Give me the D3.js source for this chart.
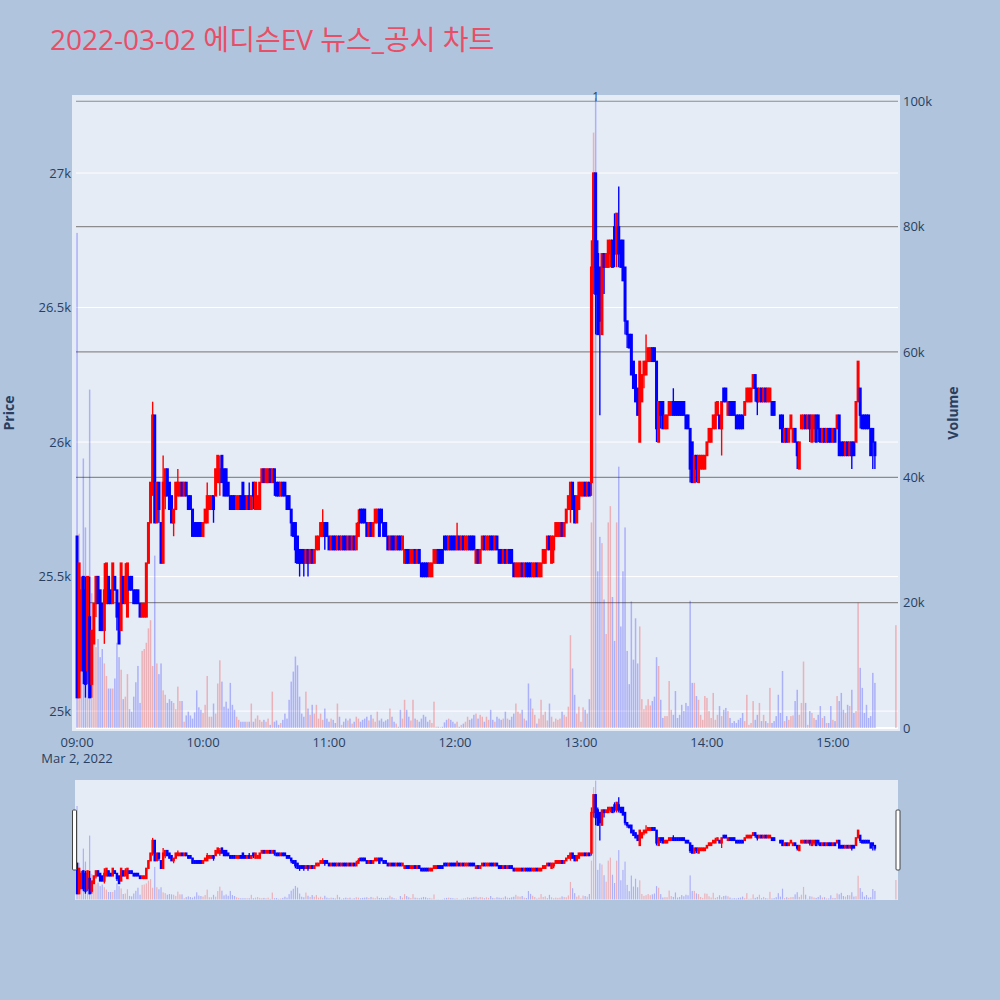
<!DOCTYPE html>
<html><head><meta charset="utf-8">
<script src="https://cdn.jsdelivr.net/npm/d3@7"></script>
<style>body{margin:0;background:#B0C4DE;}svg{display:block;}</style>
</head><body>
<svg id="chart" width="1000" height="1000"></svg>
<script>
// ---------- DATA ----------
const chartTitle = "2022-03-02 에디슨EV 뉴스_공시 차트";
const sessionDate = [2022, 2, 2];
// minute offsets from 09:00 (09:00..15:20 continuous, then 15:30 closing auction)
const minuteOffsets = d3.range(0, 381).concat([390]);

const open = [
25650,25050,25150,25500,25450,25150,25350,25100,25250,25400,
25500,25450,25400,25300,25400,25500,25450,25400,25500,25450,
25400,25300,25500,25400,25350,25500,25500,25450,25450,25450,
25400,25350,25350,25350,25550,25700,25850,26100,25700,25850,
25700,25550,25800,25900,25850,25800,25700,25750,25800,25800,
25850,25800,25850,25800,25800,25750,25700,25700,25700,25700,
25650,25700,25700,25750,25750,25800,25800,25850,25850,25950,
25900,25900,25850,25800,25800,25800,25750,25750,25800,25850,
25800,25750,25800,25750,25850,25750,25750,25750,25850,25900,
25850,25850,25900,25850,25900,25850,25850,25800,25850,25850,
25800,25800,25750,25700,25700,25650,25600,25600,25600,25550,
25600,25550,25600,25550,25600,25600,25650,25650,25700,25700,
25650,25600,25650,25650,25600,25650,25600,25650,25650,25600,
25650,25600,25650,25600,25650,25750,25750,25750,25700,25650,
25700,25650,25700,25700,25750,25750,25700,25700,25650,25600,
25650,25650,25600,25650,25650,25600,25550,25600,25600,25550,
25550,25600,25550,25600,25550,25550,25550,25550,25500,25500,
25550,25550,25600,25600,25600,25650,25650,25600,25650,25650,
25650,25600,25650,25600,25650,25600,25600,25650,25650,25650,
25550,25600,25550,25600,25650,25600,25600,25650,25650,25600,
25650,25600,25600,25550,25600,25550,25600,25600,25550,25500,
25500,25500,25550,25500,25550,25550,25550,25500,25500,25550,
25500,25500,25550,25550,25600,25650,25550,25600,25650,25650,
25650,25700,25650,25700,25750,25750,25850,25800,25700,25750,
25800,25800,25850,25800,25850,25850,26650,27000,26700,26650,
26400,26700,26650,26650,26700,26750,26800,26700,26800,26750,
26750,26650,26450,26400,26400,26300,26250,26200,26000,26150,
26250,26250,26300,26300,26350,26350,26300,26000,26150,26150,
26050,26050,26100,26100,26150,26150,26150,26150,26150,26150,
26100,26100,26050,26000,25850,25950,25850,25900,25900,25900,
25950,26000,26000,26050,26050,26100,26100,26050,26200,26200,
26100,26150,26150,26150,26100,26100,26100,26100,26100,26150,
26150,26150,26200,26250,26200,26150,26200,26150,26200,26150,
26150,26150,26150,26100,26100,26100,26100,26000,26050,26000,
26050,26000,26050,26000,25900,26050,26050,26100,26050,26100,
26000,26050,26100,26100,26050,26000,26050,26000,26050,26050,
26000,26050,26050,26100,26000,26000,25950,26000,25950,26000,
26000,26000,26150,26200,26100,26100,26100,26100,26050,26050,26000,
26000];

const high = [
25650,25550,25500,25500,25500,25500,25500,25300,25400,25500,
25500,25450,25400,25550,25550,25500,25450,25550,25500,25450,
25400,25550,25500,25550,25550,25500,25500,25450,25450,25450,
25400,25400,25400,25550,25700,25850,26150,26100,25850,25850,
25700,25950,25900,25900,25850,25800,25750,25850,25900,25850,
25850,25850,25850,25800,25800,25750,25700,25700,25700,25700,
25700,25750,25850,25800,25800,25800,25900,25950,25950,25950,
25900,25900,25850,25800,25800,25800,25800,25800,25800,25850,
25800,25800,25850,25800,25850,25850,25800,25850,25900,25900,
25900,25900,25900,25900,25900,25850,25850,25850,25850,25850,
25800,25800,25750,25700,25700,25650,25600,25600,25600,25600,
25600,25600,25600,25600,25650,25650,25700,25750,25700,25700,
25650,25650,25650,25650,25650,25650,25650,25650,25650,25650,
25650,25650,25650,25700,25750,25750,25750,25750,25700,25700,
25700,25700,25750,25750,25750,25750,25700,25700,25650,25650,
25650,25650,25650,25650,25650,25650,25600,25600,25600,25600,
25600,25600,25600,25600,25550,25550,25550,25550,25550,25550,
25600,25600,25600,25600,25600,25650,25650,25650,25650,25650,
25650,25700,25650,25650,25650,25650,25650,25650,25650,25650,
25600,25600,25600,25650,25650,25650,25650,25650,25650,25650,
25650,25600,25600,25600,25600,25600,25600,25600,25550,25550,
25550,25550,25550,25550,25550,25550,25550,25550,25550,25550,
25550,25550,25600,25600,25650,25650,25650,25650,25700,25700,
25700,25700,25700,25750,25800,25850,25850,25800,25800,25850,
25850,25850,25850,25850,25850,26750,27000,27000,26750,26650,
26700,26700,26700,26750,26750,26750,26850,26850,26950,26750,
26750,26650,26450,26400,26400,26300,26250,26200,26300,26250,
26300,26400,26350,26350,26350,26350,26300,26150,26150,26150,
26100,26100,26150,26150,26200,26150,26150,26150,26150,26150,
26100,26100,26050,26000,25950,25950,25950,25950,25950,25950,
26000,26050,26050,26100,26150,26150,26100,26150,26200,26200,
26150,26150,26150,26150,26100,26100,26100,26100,26150,26200,
26200,26200,26250,26250,26200,26200,26200,26200,26200,26200,
26200,26150,26150,26100,26100,26100,26100,26050,26050,26050,
26100,26050,26050,26000,26000,26100,26100,26100,26100,26100,
26100,26100,26100,26100,26050,26050,26050,26050,26050,26050,
26050,26050,26100,26100,26000,26000,26000,26000,26000,26000,
26000,26150,26300,26200,26100,26100,26100,26100,26050,26050,26000,
26000];

const low = [
25050,25050,25150,25100,25050,25100,25050,25050,25250,25350,
25400,25300,25300,25250,25400,25400,25400,25400,25450,25300,
25250,25300,25400,25400,25350,25450,25450,25400,25400,25400,
25350,25350,25350,25350,25550,25700,25800,25700,25700,25700,
25550,25550,25750,25800,25750,25700,25650,25750,25800,25800,
25800,25800,25800,25750,25750,25650,25650,25650,25650,25650,
25650,25700,25700,25750,25750,25700,25800,25850,25800,25850,
25800,25800,25800,25750,25750,25750,25750,25750,25750,25750,
25750,25750,25750,25750,25750,25750,25750,25750,25850,25850,
25850,25850,25850,25850,25800,25800,25800,25800,25800,25800,
25750,25750,25650,25650,25550,25550,25500,25550,25500,25550,
25500,25550,25550,25550,25600,25600,25650,25650,25600,25650,
25600,25600,25600,25600,25600,25600,25600,25600,25600,25600,
25600,25600,25600,25600,25650,25700,25700,25700,25650,25650,
25650,25650,25700,25700,25650,25700,25650,25650,25600,25600,
25600,25600,25600,25600,25600,25600,25550,25550,25550,25550,
25550,25550,25550,25550,25500,25500,25500,25500,25500,25500,
25550,25550,25550,25550,25550,25600,25600,25600,25600,25600,
25600,25600,25600,25600,25600,25600,25600,25600,25600,25600,
25550,25550,25550,25600,25600,25600,25600,25600,25600,25600,
25600,25550,25550,25550,25550,25550,25550,25550,25500,25500,
25500,25500,25500,25500,25500,25500,25500,25500,25500,25500,
25500,25500,25550,25550,25600,25600,25550,25550,25650,25650,
25650,25650,25650,25700,25750,25700,25750,25700,25700,25750,
25800,25800,25800,25800,25800,25800,26550,26400,26400,26100,
26400,26550,26650,26650,26650,26650,26650,26650,26650,26650,
26600,26400,26350,26350,26250,26200,26150,26100,26000,26150,
26200,26250,26300,26300,26300,26300,26000,26000,26050,26050,
26050,26050,26100,26100,26100,26100,26100,26100,26100,26100,
26050,26050,25850,25850,25850,25850,25850,25900,25900,25900,
25950,26000,26000,26050,26050,26100,26050,25950,26150,26150,
26100,26100,26100,26100,26050,26050,26050,26050,26100,26150,
26150,26150,26200,26150,26100,26150,26150,26150,26150,26150,
26150,26100,26100,26100,26100,26050,26000,26000,26000,26000,
26050,26000,26000,25900,25900,26050,26050,26050,26050,26000,
26000,26000,26000,26000,26000,26000,26000,26000,26000,26000,
26000,26000,26050,25950,25950,25950,25950,25950,25950,25900,
25950,26000,26150,26050,26050,26050,26050,26050,25950,25900,25900,
26000];

const close = [
25050,25550,25450,25150,25100,25500,25050,25300,25400,25500,
25400,25300,25300,25450,25550,25400,25400,25550,25450,25350,
25250,25550,25400,25500,25550,25450,25450,25400,25400,25400,
25350,25400,25400,25550,25700,25850,26100,25700,25850,25750,
25550,25850,25900,25800,25750,25700,25750,25850,25850,25850,
25800,25850,25800,25750,25750,25650,25650,25650,25650,25650,
25700,25750,25800,25800,25800,25750,25900,25950,25900,25850,
25800,25800,25800,25750,25750,25750,25800,25800,25750,25750,
25750,25800,25750,25800,25800,25850,25800,25850,25900,25850,
25900,25900,25850,25900,25850,25800,25800,25850,25800,25800,
25750,25750,25700,25650,25600,25550,25550,25550,25550,25600,
25550,25600,25550,25600,25650,25650,25700,25700,25650,25650,
25600,25650,25600,25600,25650,25600,25650,25600,25600,25650,
25600,25650,25600,25650,25700,25700,25700,25700,25650,25700,
25650,25700,25750,25750,25650,25700,25650,25650,25600,25650,
25600,25600,25650,25600,25600,25650,25600,25550,25550,25600,
25600,25550,25600,25550,25500,25500,25500,25500,25550,25550,
25600,25600,25550,25550,25550,25600,25600,25650,25600,25600,
25600,25650,25600,25650,25600,25650,25650,25600,25600,25600,
25600,25550,25600,25650,25600,25650,25650,25600,25600,25650,
25600,25550,25550,25600,25550,25600,25550,25550,25500,25550,
25550,25550,25500,25550,25500,25500,25500,25550,25550,25500,
25550,25550,25600,25600,25650,25600,25650,25650,25700,25700,
25700,25650,25700,25750,25800,25850,25750,25700,25800,25850,
25850,25850,25800,25850,25800,26650,27000,26550,26400,26450,
26700,26650,26700,26750,26750,26650,26700,26850,26700,26650,
26600,26450,26400,26350,26250,26200,26150,26100,26300,26250,
26300,26300,26350,26350,26300,26300,26050,26150,26100,26050,
26100,26100,26150,26150,26100,26100,26100,26100,26100,26100,
26050,26050,25900,25850,25950,25900,25950,25950,25950,25950,
26000,26050,26050,26100,26100,26150,26050,26150,26150,26150,
26150,26100,26100,26100,26050,26050,26050,26050,26150,26200,
26200,26200,26250,26200,26150,26200,26150,26200,26150,26200,
26200,26100,26100,26100,26100,26050,26000,26050,26000,26050,
26100,26050,26000,25950,26000,26100,26100,26050,26100,26050,
26100,26100,26000,26050,26000,26050,26000,26050,26000,26000,
26050,26000,26100,25950,25950,25950,26000,25950,26000,25950,
25950,26150,26300,26100,26050,26050,26050,26050,25950,26000,25950,
26000];

const volume = [
79000,31000,18000,43000,32000,20000,54000,21500,16600,12900,
14200,11300,12600,10300,8300,6300,6300,6300,7900,13600,
11300,9300,4600,5000,8600,3000,2600,5000,7300,9900,
4000,12300,12600,13600,15900,17200,9900,27500,10300,8600,
10300,6000,5300,4000,4600,4300,4000,3000,6600,4300,
4300,1000,2000,2600,2000,1500,2500,6000,3300,2900,
2400,3700,8300,1800,1800,3900,2300,7100,10800,7400,
3400,4200,3100,7200,3700,2900,1800,1300,1000,1000,
1000,1000,1000,3900,1000,1500,2000,1300,1000,1300,
1000,1500,500,5800,1000,1200,500,800,1300,2300,
1500,4500,7400,9000,11400,10000,5000,2300,1800,5800,
3100,2100,3700,2300,3700,1500,2300,1300,3100,1500,
1000,1500,1300,800,3900,1800,500,1000,1500,1200,
1500,700,1000,1800,1500,1000,1300,1500,1800,1200,
2100,1500,1000,2600,1200,1500,1000,1200,1400,3100,
1800,1000,700,200,2900,1500,4500,2900,1800,1200,
4500,1500,1300,1000,1500,2100,1800,1000,1300,800,
4200,200,200,100,200,900,1300,1500,1300,1000,
700,1000,200,500,700,1000,1800,1300,1500,2100,
2300,1500,2100,1800,1000,1800,1300,2900,1300,1000,
1800,1500,1300,1500,2600,1500,1300,1800,2300,3900,
2600,2300,2900,1500,1200,7100,4700,3100,2100,700,
1500,4500,2100,2600,1200,3900,1800,1000,1500,1300,
1500,2600,2100,1800,3400,14800,9500,5300,2300,3400,
1000,3300,2900,2300,4600,32800,95000,100500,25000,30500,
29500,20500,15000,32800,35400,20900,13900,32800,41700,16200,
25000,32000,12300,7000,20200,10900,17500,10300,16200,4600,
3000,3600,4600,3600,4300,5000,11300,9900,4500,1600,
1900,1900,7500,2900,2100,5900,1600,2100,3700,2700,
4000,3500,20300,7200,7200,5100,4500,2100,1300,5100,
4800,2700,1600,5600,1300,2100,3500,1900,2900,3200,
2700,1600,800,1100,800,1300,1600,2400,1100,5300,
500,800,4300,1300,2100,4000,1100,2100,1100,800,
6400,800,1100,1900,5300,2400,9100,1100,1900,1300,
1900,2000,4300,6100,2100,4000,10600,4000,500,2700,
2400,1600,1300,2100,3500,1600,1900,800,800,3500,
1300,1100,5100,4300,5600,2900,2400,3700,3500,6100,
2400,2700,20000,9600,6400,2400,3700,1600,1900,8800,7200,
16400];

const priceTicks = [25000, 25500, 26000, 26500, 27000];
const volumeTicks = [0, 20000, 40000, 60000, 80000, 100000];
const timeTickHours = [9, 10, 11, 12, 13, 14, 15];
const dateLabel = "Mar 2, 2022";
const newsMarkers = [{minute: 247, label: "1"}];

// ---------- BUILD ----------
const base = new Date(sessionDate[0], sessionDate[1], sessionDate[2], 9, 0);
const times = minuteOffsets.map(m => new Date(base.getTime() + m * 60000));
const rows = times.map((t, i) => {
  const o = open[i], c = close[i];
  const prevC = i > 0 ? close[i - 1] : o;
  const up = c > o || (c === o && c > prevC);
  return {t, o, h: high[i], l: low[i], c, v: volume[i], up};
});

const UP = "#ff0000", DOWN = "#0000ff";
const FONT = "'Open Sans', 'Noto Sans', Arial, sans-serif";
const TXT = "#2a3f5f";

const svg = d3.select("#chart");
svg.append("rect").attr("width", 1000).attr("height", 1000).attr("fill", "#B0C4DE");

svg.append("text").attr("x", 50).attr("y", 50)
  .attr("font-family", "'Open Sans', 'Noto Sans CJK KR', sans-serif")
  .attr("font-size", 28).attr("fill", "#E94E67").text(chartTitle);

const plot = {left: 76, right: 898, top: 95, bottom: 731};
const x = d3.scaleTime()
  .domain([new Date(base.getTime() - 30000), new Date(base.getTime() + 391 * 60000)])
  .range([plot.left, plot.right]);
const yP = d3.scaleLinear().domain([24926, 27290]).range([plot.bottom, plot.top]);
const yV = d3.scaleLinear().domain([-480, 101000]).range([plot.bottom, plot.top]);

// plot background
svg.append("rect").attr("x", 72).attr("y", plot.top).attr("width", 828)
  .attr("height", plot.bottom - plot.top).attr("fill", "#E5ECF6");

const defs = svg.append("defs");
defs.append("clipPath").attr("id", "clipMain").append("rect")
  .attr("x", 72).attr("y", plot.top).attr("width", 828).attr("height", plot.bottom - plot.top);

// price grid (white)
svg.append("g").selectAll("line").data(priceTicks).join("line")
  .attr("x1", plot.left).attr("x2", plot.right)
  .attr("y1", d => yP(d)).attr("y2", d => yP(d))
  .attr("stroke", "#ffffff").attr("stroke-width", 1);
// volume grid (gray) + zero line (white)
svg.append("g").selectAll("line").data(volumeTicks).join("line")
  .attr("x1", plot.left).attr("x2", plot.right)
  .attr("y1", d => yV(d)).attr("y2", d => yV(d))
  .attr("stroke", d => d === 0 ? "#ffffff" : "#8c8c8c")
  .attr("stroke-width", d => d === 0 ? 2 : 1.2);

const gMain = svg.append("g").attr("clip-path", "url(#clipMain)");

function drawVolume(g, ys, w) {
  g.selectAll("rect.v").data(rows).join("rect").attr("class", "v")
    .attr("x", d => x(d.t) - w / 2).attr("width", w)
    .attr("y", d => ys(d.v)).attr("height", d => Math.max(0, ys(0) - ys(d.v)))
    .attr("fill", d => d.up ? UP : DOWN).attr("fill-opacity", 0.25);
}
function drawCandles(g, ys, bw, lw) {
  const c = g.selectAll("g.c").data(rows).join("g").attr("class", "c");
  c.append("line")
    .attr("x1", d => x(d.t)).attr("x2", d => x(d.t))
    .attr("y1", d => ys(d.h)).attr("y2", d => ys(d.l))
    .attr("stroke", d => d.up ? UP : DOWN).attr("stroke-width", lw);
  c.append("rect")
    .attr("x", d => x(d.t) - bw / 2).attr("width", bw)
    .attr("y", d => ys(Math.max(d.o, d.c)))
    .attr("height", d => Math.abs(ys(d.o) - ys(d.c)))
    .attr("fill", d => d.up ? UP : DOWN)
    .attr("stroke", d => d.up ? UP : DOWN).attr("stroke-width", lw);
}
drawVolume(gMain.append("g"), yV, 1.5);
drawCandles(gMain.append("g"), yP, 1.6, 1.4);

// news marker annotation
svg.append("g").selectAll("text").data(newsMarkers).join("text")
  .attr("x", d => x(new Date(base.getTime() + d.minute * 60000)))
  .attr("y", 101).attr("text-anchor", "middle")
  .attr("font-family", FONT).attr("font-size", 12).attr("fill", TXT)
  .text(d => d.label);

// axes labels
const fmtK = d3.format("~s");
svg.append("g").selectAll("text").data(priceTicks).join("text")
  .attr("x", 71).attr("y", d => yP(d)).attr("dy", "0.35em")
  .attr("text-anchor", "end").attr("font-family", FONT).attr("font-size", 13)
  .attr("fill", TXT).text(d => fmtK(d));
svg.append("g").selectAll("text").data(volumeTicks).join("text")
  .attr("x", 903).attr("y", d => yV(d)).attr("dy", "0.35em")
  .attr("text-anchor", "start").attr("font-family", FONT).attr("font-size", 13)
  .attr("fill", TXT).text(d => fmtK(d));

const hourTimes = timeTickHours.map(h => new Date(sessionDate[0], sessionDate[1], sessionDate[2], h, 0));
const fmtT = d3.timeFormat("%H:%M");
svg.append("g").selectAll("text").data(hourTimes).join("text")
  .attr("x", d => x(d)).attr("y", 747).attr("text-anchor", "middle")
  .attr("font-family", FONT).attr("font-size", 13).attr("fill", TXT)
  .text(d => fmtT(d));
svg.append("text").attr("x", x(hourTimes[0])).attr("y", 763).attr("text-anchor", "middle")
  .attr("font-family", FONT).attr("font-size", 13).attr("fill", TXT).text(dateLabel);

svg.append("text").attr("transform", "translate(14,413) rotate(-90)")
  .attr("text-anchor", "middle").attr("font-family", FONT).attr("font-size", 14)
  .attr("font-weight", "bold").attr("fill", TXT).text("Price");
svg.append("text").attr("transform", "translate(958,413) rotate(-90)")
  .attr("text-anchor", "middle").attr("font-family", FONT).attr("font-size", 14)
  .attr("font-weight", "bold").attr("fill", TXT).text("Volume");

// ---------- RANGE SLIDER ----------
const rs = {top: 780, bottom: 900};
svg.append("rect").attr("x", 75).attr("y", rs.top).attr("width", 823)
  .attr("height", rs.bottom - rs.top).attr("fill", "#E5ECF6");
defs.append("clipPath").attr("id", "clipRS").append("rect")
  .attr("x", 75).attr("y", rs.top).attr("width", 823).attr("height", rs.bottom - rs.top);
const yPs = d3.scaleLinear().domain([24926, 27290]).range([rs.bottom, rs.top]);
const yVs = d3.scaleLinear().domain([-480, 101000]).range([rs.bottom, rs.top]);
const gRS = svg.append("g").attr("clip-path", "url(#clipRS)");
drawVolume(gRS.append("g"), yVs, 1.2);
drawCandles(gRS.append("g"), yPs, 1.2, 1.3);

// slider handles
[74.5, 898].forEach(hx => {
  svg.append("rect").attr("x", hx - 2).attr("y", 810).attr("width", 4).attr("height", 60)
    .attr("rx", 1).attr("fill", "#ffffff").attr("stroke", "#444").attr("stroke-width", 1);
});
</script>
</body></html>
